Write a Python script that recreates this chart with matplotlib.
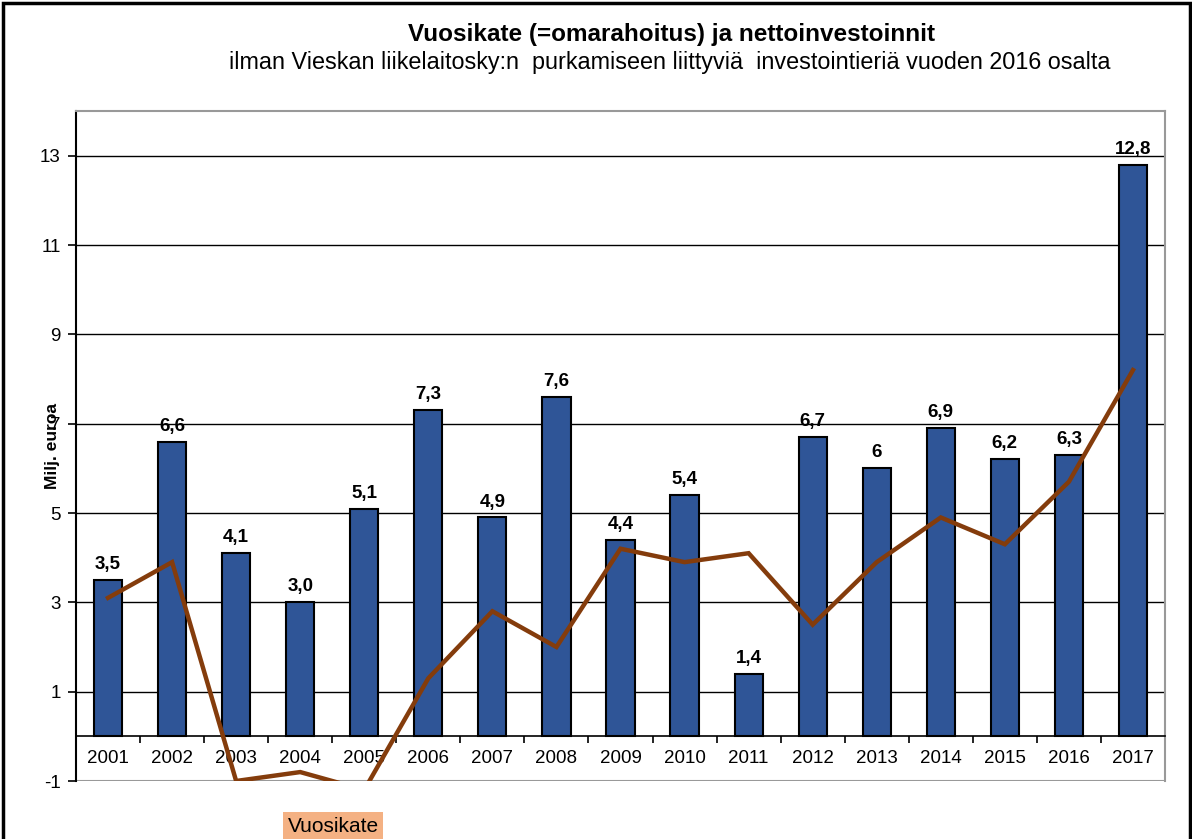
import matplotlib
matplotlib.use("Agg")
import matplotlib.pyplot as plt
from matplotlib.patches import Rectangle
import numpy as np

years = ["2001", "2002", "2003", "2004", "2005", "2006", "2007", "2008", "2009",
         "2010", "2011", "2012", "2013", "2014", "2015", "2016", "2017"]
netto = [3.5, 6.6, 4.1, 3.0, 5.1, 7.3, 4.9, 7.6, 4.4, 5.4, 1.4, 6.7, 6.0, 6.9, 6.2, 6.3, 12.8]
netto_labels = ["3,5", "6,6", "4,1", "3,0", "5,1", "7,3", "4,9", "7,6", "4,4",
                "5,4", "1,4", "6,7", "6", "6,9", "6,2", "6,3", "12,8"]
vuosikate = [3.1, 3.9, -1.0, -0.8, -1.2, 1.3, 2.8, 2.0, 4.2, 3.9, 4.1, 2.5, 3.9, 4.9, 4.3, 5.7, 8.2]
yticks = [-1, 1, 3, 5, 7, 9, 11, 13]

plt.rcParams['font.family'] = ['Liberation Sans', 'DejaVu Sans']

fig = plt.figure(figsize=(11.92, 8.39), dpi=100)
fig.patches.append(Rectangle((3/1192, -0.01), (1190-3)/1192, 1 - 3/839 + 0.01,
                             transform=fig.transFigure, fill=False, edgecolor='black',
                             linewidth=2.5, zorder=0))

ax = fig.add_axes([76/1192, 1 - 781/839, (1165-76)/1192, (781-111)/839])
x = np.arange(len(years))

ax.set_ylim(-1, 14)
ax.set_xlim(-0.5, len(years) - 0.5)

for y in yticks[1:]:
    ax.axhline(y, color='black', linewidth=1.0, zorder=1)
ax.axhline(-1, color='#999999', linewidth=1.5, zorder=1)

ax.bar(x, netto, width=0.44, color='#2F5597', edgecolor='black', linewidth=1.5, zorder=2)
for xi, v, lab in zip(x, netto, netto_labels):
    ax.annotate(lab, (xi, v), xytext=(0, 5), textcoords='offset points',
                ha='center', va='bottom', fontsize=13.5, fontweight='bold', zorder=4)

ax.plot(x, vuosikate, color='#843C0C', linewidth=3.2, zorder=3, solid_joinstyle='miter')

ax.spines['bottom'].set_position(('data', 0))
ax.spines['bottom'].set_linewidth(1.2)
ax.spines['bottom'].set_zorder(2.5)
ax.spines['left'].set_linewidth(1.5)
for s in ['top', 'right']:
    ax.spines[s].set_color('#999999')
    ax.spines[s].set_linewidth(1.5)

ax.set_xticks(x)
ax.set_xticklabels(years, fontsize=13.5)
ax.set_xticks(np.arange(len(years) + 1) - 0.5, minor=True)
ax.tick_params(axis='x', which='major', length=0, pad=10)
ax.tick_params(axis='x', which='minor', length=5, width=1.2, direction='out')

ax.set_yticks(yticks)
ax.set_yticklabels([str(t) for t in yticks], fontsize=13.5)
ax.tick_params(axis='y', length=6, width=1.2, direction='out', pad=5)

ax.set_ylabel("Milj. euroa", fontsize=12.5, fontweight='bold')
ax.yaxis.set_label_coords(-0.015, 0.50)

fig.text(672/1192, 1 - 35/839, "Vuosikate (=omarahoitus) ja nettoinvestoinnit",
         ha='center', va='center', fontsize=17.5, fontweight='bold')
fig.text(670/1192, 1 - 62/839,
         "ilman Vieskan liikelaitosky:n  purkamiseen liittyviä  investointieriä vuoden 2016 osalta",
         ha='center', va='center', fontsize=16.8)

fig.text(333/1192, 1 - 826/839, "Vuosikate", ha='center', va='center', fontsize=15,
         bbox=dict(boxstyle='square,pad=0.2', facecolor='#F4B183', edgecolor='none'))

fig.savefig("out.png", dpi=100)
